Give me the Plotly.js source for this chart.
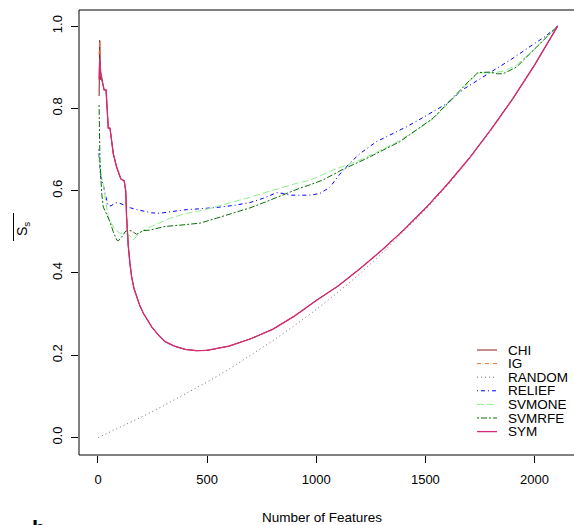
<!DOCTYPE html>
<html><head><meta charset="utf-8">
<script src="https://cdn.plot.ly/plotly-3.0.1.min.js"></script>
<style>html,body{margin:0;padding:0;background:#fff;overflow:hidden}</style>
</head><body><div id="plot" style="width:574px;height:525px"></div>
<script>
// ---------- data ----------
const seriesNames = ["CHI", "IG", "RANDOM", "RELIEF", "SVMONE", "SVMRFE", "SYM"];

const mainX = [5, 8, 12, 16, 22, 28, 37, 42, 47, 55, 62, 70, 85, 105, 120, 127, 131, 135, 139, 146, 154, 165, 177, 192, 208, 226, 246, 275, 307, 350, 400, 450, 500, 600, 700, 800, 900, 1000, 1100, 1200, 1300, 1400, 1500, 1600, 1700, 1800, 1900, 2000, 2106];
const symY = [0.87, 0.92, 0.89, 0.873, 0.86, 0.845, 0.845, 0.80, 0.752, 0.752, 0.72, 0.69, 0.658, 0.628, 0.624, 0.60, 0.537, 0.49, 0.464, 0.425, 0.391, 0.362, 0.342, 0.32, 0.302, 0.285, 0.269, 0.25, 0.233, 0.222, 0.214, 0.211, 0.212, 0.222, 0.240, 0.263, 0.295, 0.333, 0.368, 0.41, 0.455, 0.504, 0.557, 0.615, 0.678, 0.748, 0.823, 0.905, 1.0];
const chiY = [0.83, 0.965, 0.87, 0.873, 0.86, 0.845, 0.845, 0.80, 0.752, 0.752, 0.72, 0.69, 0.658, 0.628, 0.624, 0.60, 0.537, 0.49, 0.464, 0.425, 0.391, 0.362, 0.342, 0.32, 0.302, 0.285, 0.269, 0.25, 0.233, 0.222, 0.214, 0.211, 0.212, 0.222, 0.240, 0.263, 0.295, 0.333, 0.368, 0.41, 0.455, 0.504, 0.557, 0.615, 0.678, 0.748, 0.823, 0.905, 1.0];
const igY = [0.93, 0.965, 0.88, 0.873, 0.86, 0.845, 0.845, 0.80, 0.752, 0.752, 0.72, 0.69, 0.658, 0.628, 0.624, 0.60, 0.537, 0.49, 0.464, 0.425, 0.391, 0.362, 0.342, 0.32, 0.302, 0.285, 0.269, 0.25, 0.233, 0.222, 0.214, 0.211, 0.212, 0.222, 0.240, 0.263, 0.295, 0.333, 0.368, 0.41, 0.455, 0.504, 0.557, 0.615, 0.678, 0.748, 0.823, 0.905, 1.0];

const randomX = [1, 50, 100, 200, 300, 400, 500, 600, 700, 800, 900, 1000, 1100, 1200, 1300, 1400, 1500, 1600, 1700, 1800, 1900, 2000, 2106];
const randomY = [0.0, 0.012, 0.024, 0.05, 0.077, 0.105, 0.135, 0.166, 0.2, 0.235, 0.272, 0.311, 0.353, 0.398, 0.447, 0.499, 0.553, 0.612, 0.677, 0.746, 0.822, 0.904, 1.0];

const reliefX = [3, 6, 10, 16, 24, 32, 41, 47, 60, 78, 92, 110, 124, 150, 185, 224, 246, 284, 330, 391, 467, 543, 620, 696, 760, 818, 850, 879, 925, 971, 1016, 1062, 1108, 1154, 1200, 1276, 1322, 1413, 1480, 1551, 1600, 1673, 1735, 1780, 1850, 1902, 1993, 2050, 2106];
const reliefY = [0.70, 0.66, 0.64, 0.625, 0.615, 0.593, 0.575, 0.563, 0.563, 0.570, 0.571, 0.567, 0.565, 0.558, 0.553, 0.548, 0.546, 0.545, 0.549, 0.553, 0.556, 0.559, 0.564, 0.571, 0.582, 0.595, 0.593, 0.589, 0.589, 0.589, 0.593, 0.608, 0.640, 0.667, 0.69, 0.719, 0.731, 0.755, 0.775, 0.796, 0.812, 0.846, 0.866, 0.882, 0.905, 0.922, 0.955, 0.975, 1.0];

const svmoneX = [5, 9, 16, 24, 35, 47, 62, 78, 100, 116, 135, 147, 162, 175, 192, 220, 253, 307, 330, 406, 467, 543, 620, 696, 770, 848, 925, 971, 1077, 1139, 1200, 1291, 1383, 1474, 1535, 1612, 1703, 1741, 1795, 1856, 1917, 2009, 2106];
const svmoneY = [0.69, 0.657, 0.635, 0.615, 0.577, 0.537, 0.52, 0.505, 0.497, 0.495, 0.494, 0.49, 0.48, 0.488, 0.498, 0.507, 0.515, 0.527, 0.533, 0.545, 0.551, 0.561, 0.572, 0.584, 0.596, 0.608, 0.62, 0.625, 0.65, 0.662, 0.674, 0.697, 0.722, 0.752, 0.774, 0.815, 0.866, 0.886, 0.886, 0.89, 0.905, 0.948, 1.0];

const svmrfeX = [5, 9, 17, 24, 35, 55, 70, 86, 93, 108, 116, 124, 139, 154, 169, 177, 192, 208, 238, 284, 307, 375, 467, 543, 620, 696, 770, 848, 925, 971, 1031, 1123, 1230, 1383, 1474, 1535, 1612, 1660, 1703, 1741, 1795, 1830, 1856, 1917, 1978, 2106];
const svmrfeY = [0.808, 0.674, 0.594, 0.56, 0.548, 0.524, 0.50, 0.48, 0.478, 0.487, 0.492, 0.50, 0.504, 0.502, 0.496, 0.494, 0.498, 0.503, 0.504, 0.511, 0.513, 0.516, 0.521, 0.533, 0.545, 0.558, 0.573, 0.59, 0.606, 0.614, 0.626, 0.652, 0.678, 0.719, 0.752, 0.776, 0.818, 0.845, 0.868, 0.887, 0.888, 0.884, 0.884, 0.9, 0.932, 1.0];

const xTicks = [0, 500, 1000, 1500, 2000];
const xTickLabels = ["0", "500", "1000", "1500", "2000"];
const yTicks = [0, 0.2, 0.4, 0.6, 0.8, 1.0];
const yTickLabels = ["0.0", "0.2", "0.4", "0.6", "0.8", "1.0"];
const xTitle = "Number of Features";

// ---------- styles ----------
const colors = ["#8b1a1a", "#f26b3a", "#707070", "#0000ff", "#90ee90", "#0a6e0a", "#d42a78"];
const dashes = ["solid", "4px,4px", "1px,3px", "1px,3px,4px,3px", "7px,3px", "2px,2px,6px,2px", "solid"];
const widths = [1, 1, 1, 1, 1, 1, 1.3];

const xs = [mainX, mainX, randomX, reliefX, svmoneX, svmrfeX, mainX];
const ys = [chiY, igY, randomY, reliefY, svmoneY, svmrfeY, symY];

const traces = seriesNames.map((n, i) => ({
  type: "scatter", mode: "lines", name: n, x: xs[i], y: ys[i],
  line: {color: colors[i], dash: dashes[i], width: widths[i]},
  showlegend: false, hoverinfo: "skip"
}));

const W = 574, H = 525, L = 79, R = 0, T = 10, B = 70;
const pw = W - L - R, ph = H - T - B;
const fx = px => (px - L) / pw;
const fy = py => (H - B - py) / ph;
const FONT = "Liberation Sans, Arial, Helvetica, sans-serif";

const shapes = [
  {type: "line", xref: "paper", yref: "paper", x0: 0, x1: 0, y0: 0, y1: 1, line: {color: "#000", width: 1}},
  {type: "line", xref: "paper", yref: "paper", x0: 0, x1: 1.02, y0: 1, y1: 1, line: {color: "#000", width: 1}},
  {type: "line", xref: "paper", yref: "paper", x0: 0, x1: 1.02, y0: 0, y1: 0, line: {color: "#000", width: 1}},
  // overline of y label
  {type: "line", xref: "paper", yref: "paper", x0: fx(13.5), x1: fx(13.5), y0: fy(213), y1: fy(241), line: {color: "#000", width: 1}}
];
const annotations = [
  {xref: "paper", yref: "paper", x: fx(322), y: fy(517), text: xTitle, showarrow: false,
   xanchor: "center", yanchor: "middle", font: {family: FONT, size: 13.5, color: "#000"}},
  {xref: "paper", yref: "paper", x: fx(23), y: fy(229), text: "S<sub>s</sub>", textangle: -90, showarrow: false,
   xanchor: "center", yanchor: "middle", font: {family: FONT, size: 14, color: "#000"}},
  {xref: "paper", yref: "paper", x: fx(30), y: fy(514), text: "<b>b</b>", showarrow: false,
   xanchor: "left", yanchor: "top", font: {family: FONT, size: 22, color: "#000"}}
];
const legTop = 350, legStep = 13.6;
seriesNames.forEach((n, i) => {
  const py = legTop + legStep * i;
  shapes.push({type: "line", xref: "paper", yref: "paper", x0: fx(477), x1: fx(497), y0: fy(py), y1: fy(py),
    line: {color: colors[i], dash: dashes[i], width: widths[i]}});
  annotations.push({xref: "paper", yref: "paper", x: fx(506), y: fy(py), text: n, showarrow: false,
    xanchor: "left", yanchor: "middle", height: 13, valign: "middle",
    font: {family: FONT, size: 13.5, color: "#000"}});
});

const layout = {
  width: W, height: H,
  margin: {l: L, r: R, t: T, b: B, pad: 0},
  paper_bgcolor: "#fff", plot_bgcolor: "#fff",
  showlegend: false,
  xaxis: {range: [-87, 2181], tickvals: xTicks, ticktext: xTickLabels, ticks: "outside", ticklen: 7, tickwidth: 1,
    tickcolor: "#000", showline: false, showgrid: false, zeroline: false, ticklabelstandoff: 5,
    tickfont: {family: FONT, size: 13, color: "#000"}},
  yaxis: {range: [-0.0425, 1.039], tickvals: yTicks, ticktext: yTickLabels, ticks: "outside", ticklen: 7, tickwidth: 1,
    tickcolor: "#000", showline: false, showgrid: false, zeroline: false, tickangle: -90, ticklabelstandoff: 4,
    tickfont: {family: FONT, size: 13, color: "#000"}},
  shapes: shapes, annotations: annotations
};
Plotly.newPlot("plot", traces, layout, {staticPlot: true, displayModeBar: false});
</script></body></html>
